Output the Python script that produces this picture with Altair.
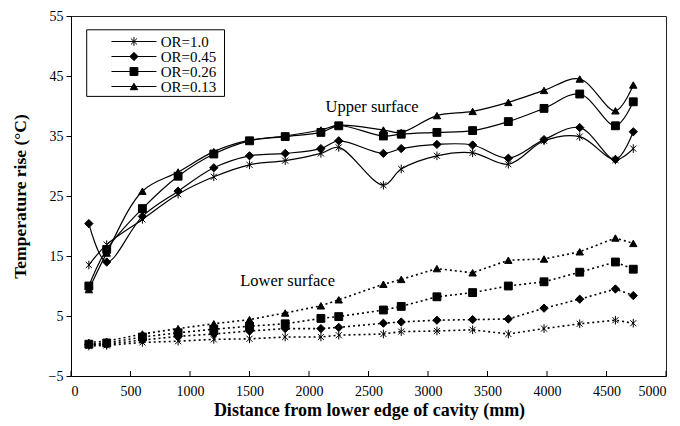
import altair as alt
import pandas as pd

# Distance from the lower edge of the cavity (mm)
distance_mm = [150, 300, 600, 900, 1200, 1500, 1800, 2100, 2250,
               2625, 2775, 3075, 3375, 3675, 3975, 4275, 4575, 4725]

series_names = ["OR=1.0", "OR=0.45", "OR=0.26", "OR=0.13"]

# Upper surface temperature rise (°C)
upper_or_100 = [13.5, 16.9, 21.1, 25.3, 28.2, 30.2, 30.9, 32.1, 33.1,
                26.8, 29.5, 31.7, 32.2, 30.3, 34.2, 34.9, 31.0, 32.9]
upper_or_045 = [20.4, 14.0, 21.6, 25.8, 29.7, 31.7, 32.1, 32.9, 34.2,
                32.1, 32.9, 33.6, 33.5, 31.3, 34.4, 36.4, 31.1, 35.7]
upper_or_026 = [10.0, 16.1, 22.9, 28.3, 32.0, 34.2, 34.9, 35.6, 36.7,
                35.0, 35.3, 35.6, 35.9, 37.4, 39.6, 42.0, 36.7, 40.7]
upper_or_013 = [9.4, 15.5, 25.8, 29.0, 32.4, 34.3, 35.0, 36.0, 36.8,
                36.0, 35.6, 38.4, 39.1, 40.6, 42.6, 44.5, 39.2, 43.5]

# Lower surface temperature rise (°C)
lower_or_100 = [0.0, 0.1, 0.6, 0.8, 1.1, 1.2, 1.5, 1.5, 1.8,
                2.0, 2.4, 2.5, 2.7, 2.0, 2.9, 3.7, 4.3, 3.8]
lower_or_045 = [0.2, 0.3, 1.0, 1.6, 2.0, 2.5, 2.9, 2.9, 3.1,
                3.8, 4.0, 4.3, 4.4, 4.5, 6.3, 7.8, 9.5, 8.4]
lower_or_026 = [0.3, 0.5, 1.5, 2.2, 2.8, 3.3, 3.7, 4.6, 4.9,
                6.0, 6.6, 8.2, 8.9, 10.0, 10.7, 12.3, 14.0, 12.8]
lower_or_013 = [0.6, 0.8, 2.0, 2.9, 3.7, 4.4, 5.5, 6.7, 7.7,
                10.3, 11.1, 12.9, 12.2, 14.3, 14.5, 15.7, 18.0, 17.1]

x_ticks = list(range(0, 5001, 500))
y_ticks = list(range(-5, 56, 10))

surface_labels = ["Upper surface", "Lower surface"]
surface_label_x = [2530, 1820]
surface_label_y = [39.8, 10.9]

rows = []
for surface, groups in (("upper", [upper_or_100, upper_or_045, upper_or_026, upper_or_013]),
                        ("lower", [lower_or_100, lower_or_045, lower_or_026, lower_or_013])):
    for name, values in zip(series_names, groups):
        for d, t in zip(distance_mm, values):
            rows.append({"surface": surface, "series": name, "distance": d, "rise": t})
df = pd.DataFrame(rows)

SERIF = "Liberation Serif"
ASTERISK = "M-0.7,-0.7L0.7,0.7M-0.7,0.7L0.7,-0.7M0,-1L0,1"

x_scale = alt.Scale(domain=[0, 5000], nice=False, zero=False)
y_scale = alt.Scale(domain=[-5, 55], nice=False, zero=False)
shape_scale = alt.Scale(domain=series_names, range=[ASTERISK, "diamond", "square", "triangle-up"])
size_scale = alt.Scale(domain=series_names, range=[75, 55, 40, 55])

x_enc = alt.X("distance:Q", scale=x_scale, axis=alt.Axis(
    values=x_ticks, format="d", tickSize=0, labelPadding=8, labelFontSize=14,
    title="Distance from lower edge of cavity (mm)", titleFontSize=18,
    titleFontWeight="bold", titleX=298, titleY=25, titleBaseline="top"))
y_enc = alt.Y("rise:Q", scale=y_scale, axis=alt.Axis(
    values=y_ticks, tickSize=5, labelPadding=3, labelFontSize=14,
    title="Temperature rise (°C)", titleFontSize=17.5, titleFontWeight="bold",
    titleX=-51, titleY=180, titleAngle=-90, titleAlign="center", titleBaseline="middle"))

upper = df[df.surface == "upper"]
lower = df[df.surface == "lower"]

upper_lines = alt.Chart(upper).mark_line(
    color="black", strokeWidth=1.2, interpolate="catmull-rom"
).encode(x=x_enc, y=y_enc, detail="series:N")

lower_lines = alt.Chart(lower).mark_line(
    color="black", strokeWidth=1.6, strokeDash=[2, 3]
).encode(x="distance:Q", y="rise:Q", detail="series:N")

points = alt.Chart(df).mark_point(
    filled=True, fill="black", stroke="black", strokeWidth=1, opacity=1
).encode(
    x="distance:Q", y="rise:Q",
    shape=alt.Shape("series:N", scale=shape_scale, legend=None),
    size=alt.Size("series:N", scale=size_scale, legend=None),
)

# Inward tick marks along the bottom axis
x_tick_df = pd.DataFrame({"distance": x_ticks, "rise": [-5] * len(x_ticks)})
x_tick_marks = alt.Chart(x_tick_df).mark_rule(color="black", strokeWidth=1).encode(
    x="distance:Q", y="rise:Q", y2=alt.value(355))

labels_df = pd.DataFrame({"label": surface_labels, "distance": surface_label_x, "rise": surface_label_y})
surface_text = alt.Chart(labels_df).mark_text(
    font=SERIF, fontSize=16.5, color="black", align="center", baseline="middle"
).encode(x="distance:Q", y="rise:Q", text="label:N")

# Legend box drawn inside the plot area
legend_rows = pd.DataFrame({
    "series": series_names,
    "rise": [50.75, 48.25, 45.75, 43.25],
})
legend_rows["x0"] = 340
legend_rows["x1"] = 718
legend_rows["distance"] = 529
legend_rows["tx"] = 754

box_df = pd.DataFrame({"x0": [132], "x1": [1290], "y0": [52.7], "y1": [41.6]})
legend_box = alt.Chart(box_df).mark_rect(
    fill="white", stroke="black", strokeWidth=1
).encode(x="x0:Q", x2="x1:Q", y="y0:Q", y2="y1:Q")

legend_lines = alt.Chart(legend_rows).mark_rule(color="black", strokeWidth=1.2).encode(
    x="x0:Q", x2="x1:Q", y="rise:Q")
legend_marks = alt.Chart(legend_rows).mark_point(
    filled=True, fill="black", stroke="black", strokeWidth=1, opacity=1
).encode(
    x="distance:Q", y="rise:Q",
    shape=alt.Shape("series:N", scale=shape_scale, legend=None),
    size=alt.Size("series:N", scale=size_scale, legend=None),
)
legend_text = alt.Chart(legend_rows).mark_text(
    font=SERIF, fontSize=15, color="black", align="left", baseline="middle"
).encode(x="tx:Q", y="rise:Q", text="series:N")

chart = alt.layer(
    upper_lines, lower_lines, points, x_tick_marks, surface_text,
    legend_box, legend_lines, legend_marks, legend_text,
).properties(
    width=595, height=360,
    padding={"left": 71, "top": 16, "right": 14, "bottom": 50},
    autosize=alt.AutoSizeParams(type="none"),
).configure_view(
    stroke="#222", strokeWidth=1
).configure_axis(
    labelFont=SERIF, titleFont=SERIF, labelColor="black", titleColor="black",
    domainColor="black", tickColor="black", grid=False
)

chart.save("out.html", embed_options={"renderer": "svg", "actions": False})
